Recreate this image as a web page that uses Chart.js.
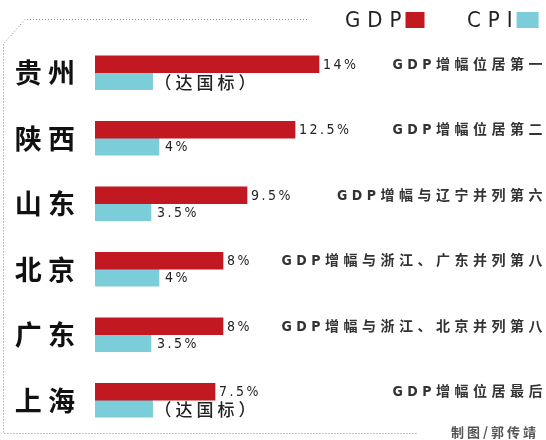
<!DOCTYPE html>
<html lang="zh-CN">
<head>
  <meta charset="UTF-8">
  <title>GDP 与 CPI</title>
  <script src="https://cdn.jsdelivr.net/npm/chart.js"></script>
  <style>
    body { margin: 0; background: #fff; }
    #wrap { width: 546px; height: 440px; }
  </style>
</head>
<body>
  <div id="wrap"><canvas id="gdpChart" width="546" height="440"></canvas></div>

  <script>
    // dados
    const categories = ['贵州', '陕西', '山东', '北京', '广东', '上海'];
    const gdpValues = [14, 12.5, 9.5, 8, 8, 7.5];
    const cpiValues = [3.6, 4, 3.5, 4, 3.5, 3.6];
    const cpiNotes = ['（达国标）', '', '', '', '', '（达国标）'];
    const gdpNotes = [
      'GDP增幅位居第一',
      'GDP增幅位居第二',
      'GDP增幅与辽宁并列第六',
      'GDP增幅与浙江、广东并列第八',
      'GDP增幅与浙江、北京并列第八',
      'GDP增幅位居最后'
    ];

    const vermelho = 'rgb(193, 24, 34)';
    const ciano = 'rgb(124, 205, 218)';
    const fonteNum = '"DejaVu Sans Condensed", "Liberation Sans Narrow", "Noto Sans CJK SC", sans-serif';

    // moldura pontilhada, legenda e textos
    const decoracao = {
      id: 'decoracao',
      beforeDraw(chart) {
        const ctx = chart.ctx;
        ctx.save();
        ctx.fillStyle = '#fff';
        ctx.fillRect(0, 0, chart.width, chart.height);
        ctx.strokeStyle = '#8a8a8a';
        ctx.lineWidth = 1;
        ctx.setLineDash([1, 2]);
        ctx.beginPath();
        ctx.moveTo(307, 19.5);
        ctx.lineTo(25, 19.5);
        ctx.lineTo(3.5, 44);
        ctx.lineTo(3.5, 433.5);
        ctx.lineTo(417, 433.5);
        ctx.stroke();
        ctx.restore();
      },
      afterDatasetsDraw(chart) {
        const ctx = chart.ctx;
        ctx.save();
        ctx.textBaseline = 'middle';

        // legenda: texto e depois o quadrado
        const posLegenda = [345, 467];
        const larguraQuadro = [19, 22];
        chart.data.datasets.forEach((ds, i) => {
          ctx.font = '22px ' + fonteNum;
          ctx.letterSpacing = '7px';
          ctx.fillStyle = '#222';
          ctx.textAlign = 'left';
          ctx.fillText(ds.label, posLegenda[i], 21);
          const w = ctx.measureText(ds.label).width;
          ctx.fillStyle = ds.backgroundColor;
          ctx.fillRect(posLegenda[i] + w - 3, 12, larguraQuadro[i], 16);
        });

        const metaGdp = chart.getDatasetMeta(0);
        const metaCpi = chart.getDatasetMeta(1);
        ctx.textAlign = 'left';
        ctx.fillStyle = '#222';

        metaGdp.data.forEach((bar, i) => {
          ctx.font = '14px ' + fonteNum;
          ctx.letterSpacing = '2.5px';
          ctx.fillText(gdpValues[i] + '%', bar.x + 4, bar.y + 1);
        });

        metaCpi.data.forEach((bar, i) => {
          if (cpiNotes[i]) {
            ctx.font = '500 17px "Noto Sans CJK SC", sans-serif';
            ctx.letterSpacing = '4px';
            ctx.fillText(cpiNotes[i], bar.x + 2, bar.y + 1);
          } else {
            ctx.font = '14px ' + fonteNum;
            ctx.letterSpacing = '2.5px';
            ctx.fillText(cpiValues[i] + '%', bar.x + 6, bar.y + 1);
          }
        });

        // notas à direita
        ctx.textAlign = 'right';
        ctx.font = 'bold 14px ' + fonteNum;
        ctx.letterSpacing = '4.5px';
        ctx.fillStyle = '#333';
        metaGdp.data.forEach((bar, i) => {
          ctx.fillText(gdpNotes[i], 547, bar.y + 1);
        });

        // crédito
        ctx.font = 'bold 13px "Noto Sans CJK SC", sans-serif';
        ctx.letterSpacing = '3px';
        ctx.fillStyle = '#555';
        ctx.fillText('制图/郭传靖', 539, 432);
        ctx.restore();
      }
    };

    new Chart(document.getElementById('gdpChart'), {
      type: 'bar',
      data: {
        labels: categories,
        datasets: [
          {
            label: 'GDP',
            data: gdpValues,
            backgroundColor: vermelho,
            barThickness: 17,
            categoryPercentage: 0.61,
            barPercentage: 1
          },
          {
            label: 'CPI',
            data: cpiValues,
            backgroundColor: ciano,
            barThickness: 17,
            categoryPercentage: 0.61,
            barPercentage: 1
          }
        ]
      },
      options: {
        indexAxis: 'y',
        responsive: false,
        animation: false,
        layout: { padding: { top: 40, bottom: 7, left: 0, right: 3 } },
        plugins: {
          legend: { display: false },
          tooltip: { enabled: false }
        },
        scales: {
          x: {
            display: false,
            min: 0,
            max: 28
          },
          y: {
            grid: { display: false, drawTicks: false },
            border: { display: false },
            afterFit(scale) {
              scale.width = 95;
              scale.paddingTop = 0;
              scale.paddingBottom = 0;
            },
            ticks: {
              padding: 20,
              color: '#111',
              font: { family: '"Noto Sans CJK SC", sans-serif', size: 27, weight: 'bold' },
              callback: function (v) {
                return this.getLabelForValue(v).split('').join(' ');
              }
            }
          }
        }
      },
      plugins: [decoracao]
    });
  </script>
</body>
</html>
